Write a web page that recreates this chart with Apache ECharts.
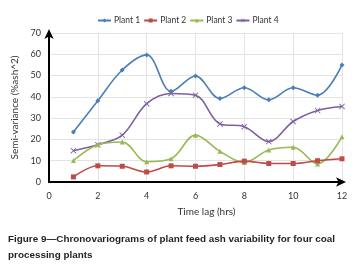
<!DOCTYPE html>
<html>
<head>
<meta charset="utf-8">
<script src="https://cdn.jsdelivr.net/npm/echarts@6/dist/echarts.min.js"></script>
<style>
  html, body { margin: 0; padding: 0; background: #fff; }
  #chart { width: 360px; height: 266px; }
</style>
</head>
<body>
<div id="chart"></div>
<script>
const lags = [1, 2, 3, 4, 5, 6, 7, 8, 9, 10, 11, 12];
const plant1 = [23.5, 38.2, 52.6, 59.7, 42.6, 49.8, 39.2, 44.3, 38.6, 44.3, 40.8, 55.0];
const plant2 = [2.4, 7.6, 7.4, 4.7, 7.6, 7.4, 8.2, 9.8, 8.7, 8.7, 10.0, 10.9];
const plant3 = [10.1, 17.5, 18.8, 9.5, 10.9, 22.0, 14.4, 9.2, 15.0, 16.3, 8.5, 21.3];
const plant4 = [14.7, 17.5, 22.0, 36.8, 41.6, 40.8, 27.3, 26.0, 19.0, 28.4, 33.6, 35.5];

const seriesNames = ['Plant 1', 'Plant 2', 'Plant 3', 'Plant 4'];
const seriesValues = [plant1, plant2, plant3, plant4];
const colors = ['#4a7ebb', '#be4b48', '#98b954', '#7d60a0'];
const symbols = [
  'diamond',
  'rect',
  'triangle',
  'path://M0,1L1,0L5,4L9,0L10,1L6,5L10,9L9,10L5,6L1,10L0,9L4,5Z'
];
const symbolSizes = [5, 5, 5, 6];

const caption = 'Figure 9\u2014Chronovariograms of plant feed ash variability for four coal\nprocessing plants';

const chart = echarts.init(document.getElementById('chart'), null, { renderer: 'canvas' });

const labelFont = 'Lato, "Open Sans", sans-serif';

chart.setOption({
  animation: false,
  color: colors,
  textStyle: { fontFamily: labelFont },
  title: {
    text: caption,
    left: 3,
    top: 226,
    textStyle: {
      fontFamily: '"Liberation Sans", Arial, sans-serif',
      fontWeight: 'bold',
      fontSize: 9.9,
      color: '#231f20',
      lineHeight: 16
    }
  },
  legend: {
    top: 11,
    left: 92,
    itemWidth: 13,
    itemHeight: 5,
    itemGap: 3,
    textStyle: { fontSize: 8.5, color: '#333', fontFamily: labelFont, padding: [0, 0, 0, -2] },
    data: seriesNames
  },
  grid: { left: 49, right: 18, top: 33, bottom: 84 },
  xAxis: {
    type: 'value',
    min: 0,
    max: 12,
    interval: 2,
    name: 'Time lag (hrs)',
    nameLocation: 'middle',
    nameGap: 25,
    nameTextStyle: { fontSize: 10, color: '#333', fontFamily: labelFont, padding: [0, 0, 0, 22] },
    axisLine: { lineStyle: { color: '#000', width: 2 }, symbol: ['none', 'arrow'], symbolSize: [7, 10], symbolOffset: [0, 4] },
    axisTick: { show: false },
    axisLabel: { fontSize: 9, color: '#333', margin: 10 },
    splitLine: { show: true, lineStyle: { color: '#e3e3e3', width: 1 } }
  },
  yAxis: {
    type: 'value',
    min: 0,
    max: 70,
    interval: 10,
    name: 'Semi-variance (%ash^2)',
    nameLocation: 'middle',
    nameGap: 25,
    nameTextStyle: { fontSize: 10, color: '#333', fontFamily: labelFont },
    axisLine: { lineStyle: { color: '#000', width: 2 }, symbol: ['none', 'arrow'], symbolSize: [7, 10], symbolOffset: [0, 4] },
    axisTick: { show: false },
    axisLabel: { fontSize: 9, color: '#333', margin: 8 },
    splitLine: { show: true, lineStyle: { color: '#e3e3e3', width: 1 } }
  },
  series: seriesNames.map((name, i) => ({
    name: name,
    type: 'line',
    smooth: 0.35,
    symbol: symbols[i],
    symbolSize: symbolSizes[i],
    itemStyle: { color: colors[i] },
    lineStyle: { color: colors[i], width: 1.6 },
    data: lags.map((lag, j) => [lag, seriesValues[i][j]]),
    z: 4 - i
  }))
});
</script>
</body>
</html>
